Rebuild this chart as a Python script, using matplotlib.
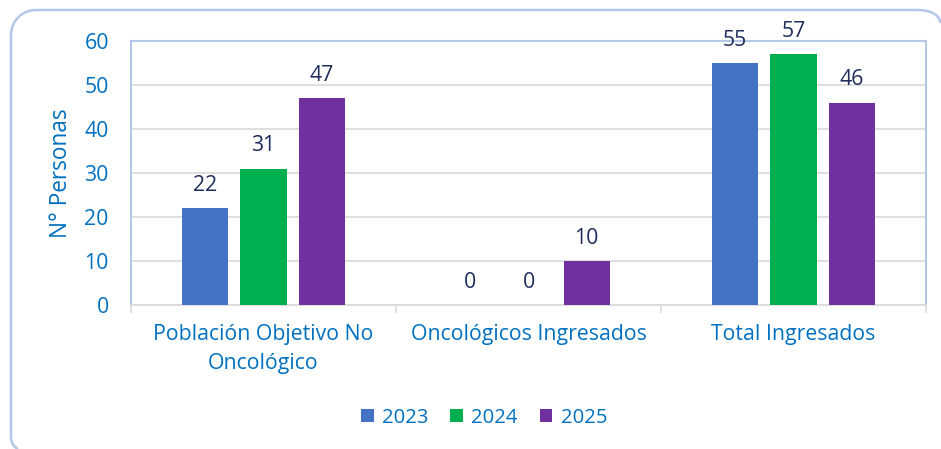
import matplotlib
matplotlib.use("Agg")
import matplotlib.pyplot as plt
from matplotlib.patches import PathPatch
from matplotlib.path import Path
from matplotlib.transforms import IdentityTransform
import numpy as np

categories = ["Población Objetivo No\nOncológico", "Oncológicos Ingresados", "Total Ingresados"]
years = ["2023", "2024", "2025"]
v2023 = [22, 0, 55]
v2024 = [31, 0, 57]
v2025 = [47, 10, 46]
colors = ["#4472C4", "#00B050", "#7030A0"]
yticks = [0, 10, 20, 30, 40, 50, 60]

plt.rcParams['font.family'] = ['Open Sans', 'DejaVu Sans']
blue_txt = "#0070C0"
navy = "#1F2D5C"
FS = 15.3

fig = plt.figure(figsize=(9.41, 4.49), dpi=100)
fig.patch.set_facecolor("white")

# open rounded frame (only the visible parts inside the canvas)
verts = [(940.5, 426), (940, 433), (932, 439), (918, 439),
         (36, 439),
         (22, 439), (11, 428), (11, 414),
         (11, 12),
         (11, 6), (14, 2), (18, 0)]
codes = [Path.MOVETO, Path.CURVE4, Path.CURVE4, Path.CURVE4,
         Path.LINETO,
         Path.CURVE4, Path.CURVE4, Path.CURVE4,
         Path.LINETO,
         Path.CURVE4, Path.CURVE4, Path.CURVE4]
frame = PathPatch(Path(verts, codes), transform=IdentityTransform(), fill=False,
                  edgecolor="#B4C7E7", linewidth=1.8)
fig.patches.append(frame)

ax = fig.add_axes([131/941, 1-305/449, (926-131)/941, (305-41)/449])
x = np.arange(len(categories))
w = 0.174
off = 0.22
for i, (vals, c, yr) in enumerate(zip([v2023, v2024, v2025], colors, years)):
    pos = x + (i-1)*off
    ax.bar(pos, vals, w, color=c, label=yr, zorder=3)
    for p, v in zip(pos, vals):
        ax.text(p, v + 2.8, str(v), ha="center", va="bottom", fontsize=FS, color=navy)

ax.set_xlim(-0.5, 2.5)
ax.set_ylim(0, 60)
ax.set_yticks(yticks)
ax.yaxis.grid(True, color="#D9D9D9", linewidth=1.2, zorder=0)
ax.tick_params(axis="y", length=0, labelsize=FS, labelcolor=blue_txt, pad=16)
ax.set_xticks(x)
ax.set_xticklabels(categories, fontsize=FS, color=blue_txt, linespacing=1.5)
ax.tick_params(axis="x", length=0, pad=14)
ax.set_xticks([-0.5, 0.5, 1.5, 2.5], minor=True)
ax.tick_params(axis="x", which="minor", length=6, color="#D9D9D9", width=1.2)
for s in ["top", "left", "right"]:
    ax.spines[s].set_color("#B4C7E7")
    ax.spines[s].set_linewidth(1.5)
ax.spines["bottom"].set_color("#D9D9D9")
ax.spines["bottom"].set_linewidth(1.2)
ax.set_ylabel("N° Personas", fontsize=16.3, color=blue_txt, labelpad=8)

leg = fig.legend(loc="center", bbox_to_anchor=(484/941, 1-418/449), ncol=3, frameon=False,
                 fontsize=14.6, handlelength=0.62, handleheight=0.62, handletextpad=0.4,
                 columnspacing=1.1)
for t in leg.get_texts():
    t.set_color(blue_txt)

fig.savefig("out.png", dpi=100)
